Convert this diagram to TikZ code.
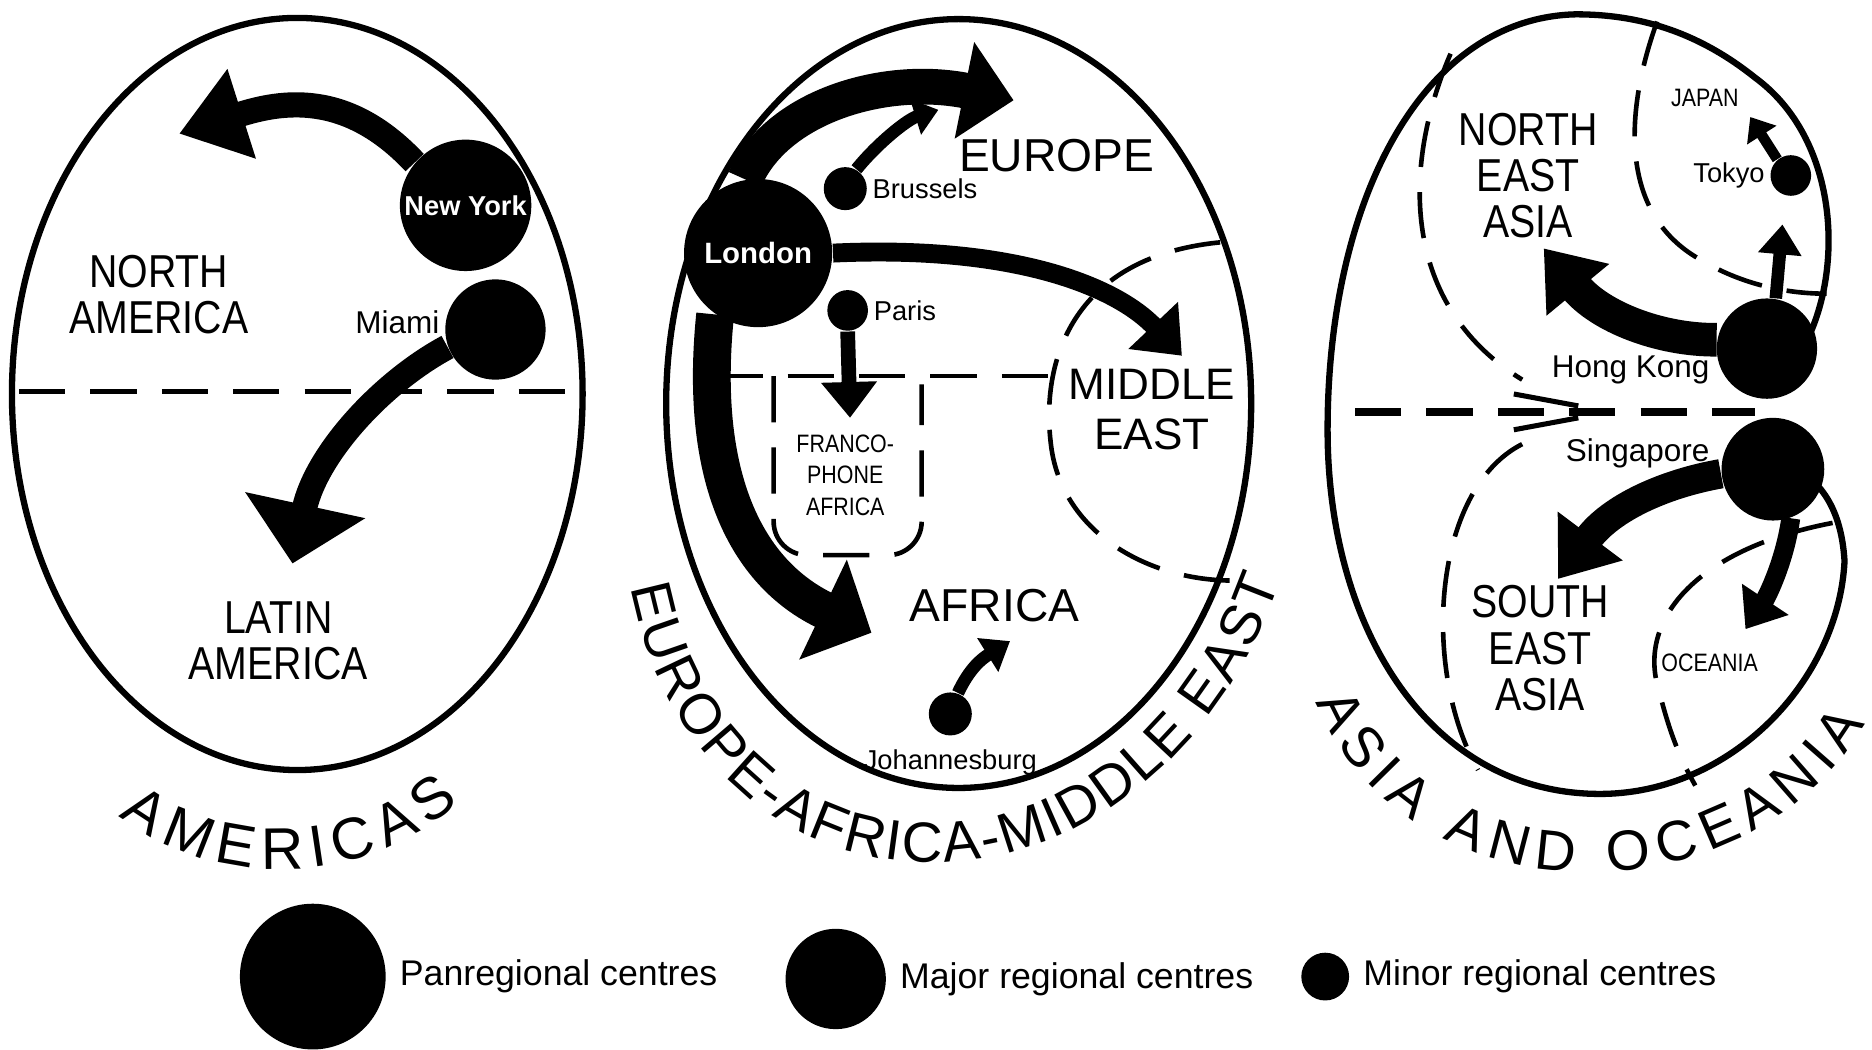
\documentclass[tikz,border=0pt]{standalone}
\usepackage{fontspec}
\setmainfont{Liberation Sans}
\newfontfamily\narrowsans[FakeStretch=0.85]{Liberation Sans}
\usetikzlibrary{positioning, arrows.meta, decorations.text}

\tikzset{
    region/.style={line width=1.5pt},
    divide/.style={line width=1.1pt, dash pattern=on 11pt off 6pt},
    hub/.style={circle, fill=black, inner sep=0pt, minimum size=#1},
    areaname/.style={font=\narrowsans\fontsize{11}{11}\selectfont, align=center},
    bigname/.style={font=\fontsize{11}{11.5}\selectfont, align=center},
    city/.style={font=\fontsize{7.5}{8}\selectfont, inner sep=1pt},
    town/.style={font=\fontsize{6.5}{7}\selectfont, inner sep=1pt},
    tinyname/.style={font=\narrowsans\fontsize{6}{7.5}\selectfont, align=center},
    key/.style={font=\fontsize{8.5}{9}\selectfont, inner sep=1pt},
    flow/.style n args={3}{line width=#1, -{Triangle[length=#2, width=#3]}},
    curved/.style 2 args={decorate, decoration={text along path, text align=fit to path, text={|\fontsize{#1}{#1}\selectfont|#2}}},
}

\begin{document}
\begin{tikzpicture}[x=0.01cm, y=-0.01cm]
\useasboundingbox (0,0) rectangle (1568,879);

% Americas
\draw[region] (249,330) ellipse [x radius=239, y radius=315];
\draw[divide] (16,328) -- (480,328);

\node[hub=1.1cm, text=white, font=\bfseries\fontsize{6.5}{7}\selectfont] (ny) at (390,172) {New York};
\node[hub=0.84cm] (miami) at (415,276) {};
\node[city, left=0pt of miami, yshift=0.06cm] {Miami};

\coordinate (naTip) at (150,112);
\coordinate (laTip) at (245,472);
\draw[flow={6pt}{0.55cm}{0.75cm}] (ny.140) .. controls (290,75) and (235,85) .. (naTip);
\draw[flow={6pt}{0.5cm}{1.0cm}] (miami.200) .. controls (320,320) and (265,380) .. (laTip);

\node[areaname] (na) at (133,247) {NORTH\\AMERICA};
\node[areaname] (la) at (233,537) {LATIN\\AMERICA};
\path[curved={14}{AMERICAS}] (100,683) .. controls (180,745) and (300,745) .. (385,672);

% Europe - Africa - Middle East
\draw[region] (803,338) ellipse [x radius=245, y radius=322];
\draw[divide] (600,315) -- (880,315);
\draw[divide, rounded corners=8pt] (648,315) -- (648,465) -- (772,465) -- (772,322);
\draw[divide] (1022,203) .. controls (900,215) and (872,300) .. (880,370) .. controls (888,450) and (970,490) .. (1042,486);

\coordinate (euTip) at (849,84);
\coordinate (brTip) at (786,92);
\coordinate (meTip) at (990,298);
\coordinate (frTip) at (712,350);
\coordinate (afTip) at (730,530);
\coordinate (jbTip) at (846,537);

\node[hub=1.24cm, text=white, font=\bfseries\fontsize{7}{8}\selectfont] (london) at (635,212) {London};
\node[hub=0.36cm] (brussels) at (708,158) {};
\node[hub=0.34cm] (paris) at (710,260) {};
\node[hub=0.36cm] (joburg) at (796,598) {};

\draw[flow={8.5pt}{0.42cm}{0.8cm}] (london.100) .. controls (650,90) and (740,62) .. (euTip);
\draw[flow={3pt}{0.2cm}{0.3cm}] (brussels.60) .. controls (735,120) and (760,100) .. (brTip);
\draw[flow={4.5pt}{0.35cm}{0.55cm}] (london.east) .. controls (850,205) and (935,240) .. (meTip);
\draw[flow={3.5pt}{0.3cm}{0.45cm}] (paris.south) -- (frTip);
\draw[flow={9pt}{0.45cm}{0.9cm}] (london.235) .. controls (585,400) and (625,480) .. (afTip);
\draw[flow={3pt}{0.22cm}{0.32cm}] (joburg.70) .. controls (812,560) and (822,552) .. (jbTip);

\node[town, right=0pt of brussels] {Brussels};
\node[town, right=0pt of paris] {Paris};
\node[town, below=2pt of joburg] {Johannesburg};

\node[bigname] (eu) at (885,130) {EUROPE};
\node[bigname, font=\fontsize{10.5}{12}\selectfont] (me) at (965,343) {MIDDLE\\EAST};
\node[bigname] (af) at (833,507) {AFRICA};
\node[tinyname] (fr) at (708,398) {FRANCO-\\PHONE\\AFRICA};
\path[curved={13.5}{EUROPE-AFRICA-MIDDLE EAST}] (528,492) .. controls (590,800) and (960,800) .. (1072,488);

% Asia and Oceania
\draw[region] (1505,300) .. controls (1545,240) and (1545,120) .. (1470,65)
    .. controls (1420,25) and (1370,12) .. (1320,12)
    .. controls (1190,15) and (1112,170) .. (1112,360)
    .. controls (1112,530) and (1200,665) .. (1340,665)
    .. controls (1450,665) and (1540,570) .. (1545,470)
    .. controls (1542,420) and (1520,400) .. (1500,390);
\draw[divide, line width=2pt] (1135,345) -- (1470,345);
\draw[line width=1.2pt] (1268,330) -- (1322,340) (1268,360) -- (1322,350);
\draw[divide] (1215,45) .. controls (1170,150) and (1180,260) .. (1275,318);
\draw[divide] (1388,18) .. controls (1362,90) and (1355,175) .. (1420,215) .. controls (1460,240) and (1500,246) .. (1530,246);
\draw[divide] (1275,372) .. controls (1200,410) and (1190,560) .. (1238,645);
\draw[divide] (1535,438) .. controls (1420,460) and (1370,520) .. (1390,580) .. controls (1400,620) and (1410,640) .. (1420,658);

\coordinate (neTip) at (1293,208);
\coordinate (seTip) at (1305,485);
\coordinate (jpTip) at (1493,188);
\coordinate (tkTip) at (1466,98);
\coordinate (ocTip) at (1462,527);

\node[hub=0.84cm] (hk) at (1480,292) {};
\node[hub=0.86cm] (sing) at (1485,393) {};
\node[hub=0.34cm] (tokyo) at (1500,147) {};

\draw[flow={8pt}{0.45cm}{0.65cm}] (hk.170) .. controls (1390,285) and (1340,265) .. (neTip);
\draw[flow={7pt}{0.45cm}{0.65cm}] (sing.185) .. controls (1395,405) and (1350,425) .. (seTip);
\draw[flow={3pt}{0.25cm}{0.35cm}] (hk.80) -- (jpTip);
\draw[flow={2.5pt}{0.18cm}{0.28cm}] (tokyo.130) -- (tkTip);
\draw[flow={4.5pt}{0.3cm}{0.45cm}] (sing.290) .. controls (1495,470) and (1480,500) .. (ocTip);

\node[city, anchor=east] at (1436,310) {Hong Kong};
\node[city, anchor=east] at (1436,380) {Singapore};
\node[town, left=0pt of tokyo] {Tokyo};

\node[areaname] (nea) at (1280,147) {NORTH\\EAST\\ASIA};
\node[areaname] (sea) at (1290,543) {SOUTH\\EAST\\ASIA};
\node[tinyname] (jp) at (1428,82) {JAPAN};
\node[tinyname] (oc) at (1432,555) {OCEANIA};
\path[curved={13.5}{ASIA AND OCEANIA}] (1102,588) .. controls (1180,775) and (1465,775) .. (1562,606);

% legend
\node[hub=1.22cm] (pan) at (262,818) {};
\node[key, right=2pt of pan] {Panregional centres};
\node[hub=0.84cm] (major) at (700,820) {};
\node[key, right=2pt of major] {Major regional centres};
\node[hub=0.4cm] (minor) at (1110,818) {};
\node[key, right=2pt of minor] {Minor regional centres};
\end{tikzpicture}
\end{document}
